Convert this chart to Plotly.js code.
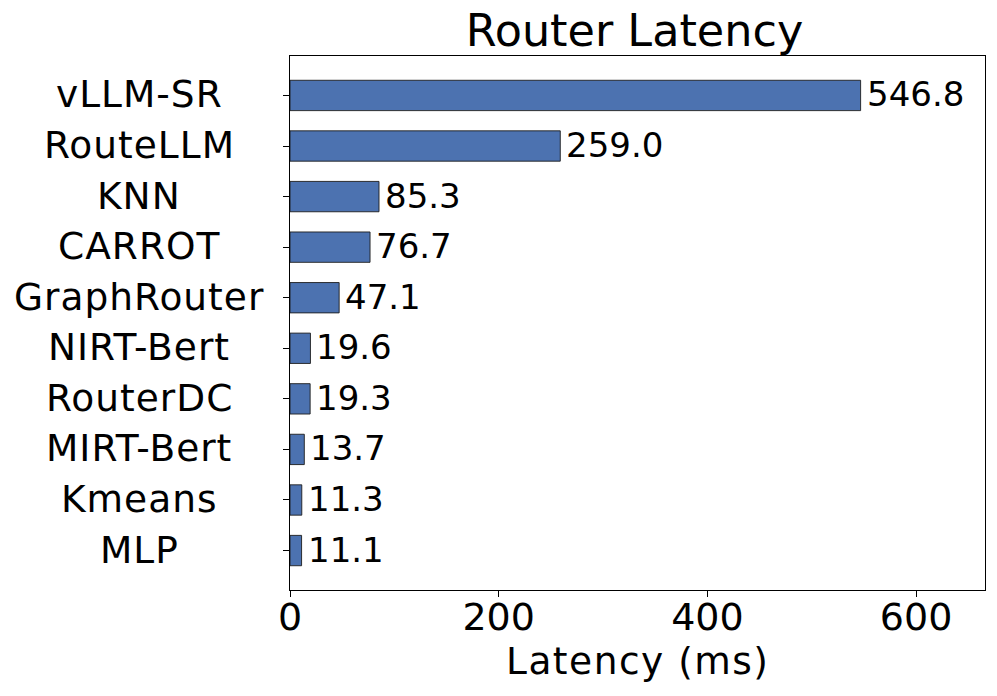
<!DOCTYPE html>
<html>
<head>
<meta charset="utf-8">
<script src="https://cdn.plot.ly/plotly-3.0.1.min.js"></script>
<style>html,body{margin:0;padding:0;background:#fff;}#chart{width:997px;height:696px;}</style>
</head>
<body>
<div id="chart"></div>
<script>
const categories = ["vLLM-SR", "RouteLLM", "KNN", "CARROT", "GraphRouter", "NIRT-Bert", "RouterDC", "MIRT-Bert", "Kmeans", "MLP"];
const latency = [546.8, 259.0, 85.3, 76.7, 47.1, 19.6, 19.3, 13.7, 11.3, 11.1];
const xTicks = [0, 200, 400, 600];

const FONT = "DejaVu Sans, sans-serif";
const L = 290, R = 12, T = 56, B = 106, W = 997, H = 696;
const plotW = W - L - R, plotH = H - T - B;
const spaced = (s, ls) => '<span style="letter-spacing:' + ls + 'px">' + s + '</span>';
const px2x = p => (p - L) / plotW;
const px2y = p => (H - B - p) / plotH;

const trace = {
  type: "bar",
  orientation: "h",
  x: latency,
  y: categories,
  width: 0.6,
  marker: { color: "#4C72B0", line: { color: "rgba(30,30,30,0.9)", width: 1 } },
  hoverinfo: "none"
};

const annotations = [];
latency.forEach((v, i) => {
  annotations.push({
    x: v, y: categories[i], xref: "x", yref: "y",
    text: v.toFixed(1), showarrow: false,
    xanchor: "left", yanchor: "middle", xshift: 4, yshift: 1,
    font: { family: FONT, size: 34, color: "#000" }
  });
  annotations.push({
    x: px2x(139), y: categories[i], xref: "paper", yref: "y",
    text: spaced(categories[i], 1), showarrow: false,
    xanchor: "center", yanchor: "middle", yshift: 1,
    font: { family: FONT, size: 37.5, color: "#000" }
  });
});
annotations.push({
  x: 0.5, y: px2y(637), xref: "paper", yref: "paper",
  text: spaced("Latency (ms)", 1.5), showarrow: false,
  xanchor: "center", yanchor: "top",
  font: { family: FONT, size: 37.5, color: "#000" }
});

const layout = {
  width: W, height: H,
  margin: { l: L, r: R, t: T, b: B, pad: 0 },
  paper_bgcolor: "#fff", plot_bgcolor: "#fff",
  showlegend: false,
  title: {
    text: "Router Latency",
    font: { family: FONT, size: 44.5, color: "#000" },
    x: 634.5 / W, xref: "container", xanchor: "center",
    y: 1 - 30 / H, yref: "container", yanchor: "middle"
  },
  xaxis: {
    range: [0, 666],
    tickvals: xTicks, ticktext: xTicks.map(String),
    ticks: "outside", ticklen: 6, tickwidth: 1, tickcolor: "#000",
    ticklabelstandoff: -13,
    showline: true, linecolor: "#000", linewidth: 1, mirror: true,
    showgrid: false, zeroline: false,
    tickfont: { family: FONT, size: 38, color: "#000" }
  },
  yaxis: {
    type: "category",
    range: [9.78, -0.78],
    showticklabels: false,
    ticks: "outside", ticklen: 6, tickwidth: 1, tickcolor: "#000",
    showline: true, linecolor: "#000", linewidth: 1, mirror: true,
    showgrid: false, zeroline: false
  },
  annotations: annotations
};

Plotly.newPlot("chart", [trace], layout, { staticPlot: true, displayModeBar: false });
</script>
</body>
</html>
